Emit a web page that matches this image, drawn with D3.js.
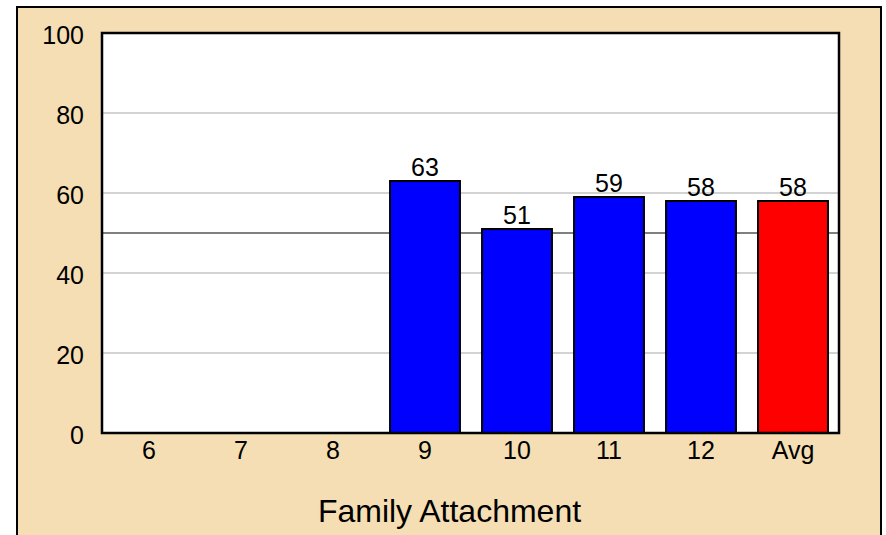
<!DOCTYPE html>
<html>
<head>
<meta charset="utf-8">
<script src="https://cdn.jsdelivr.net/npm/d3@7"></script>
<style>
  html, body { margin: 0; padding: 0; background: #fff; }
  svg { display: block; font-family: "Liberation Sans", Arial, sans-serif; }
</style>
</head>
<body>
<svg id="chart" width="886" height="535"></svg>
<script>
const categories = ["6", "7", "8", "9", "10", "11", "12", "Avg"];
const values = [null, null, null, 63, 51, 59, 58, 58];
const yTicks = [0, 20, 40, 60, 80, 100];
const referenceValue = 50;
const xTitle = "Family Attachment";

const svg = d3.select("#chart");
const plot = { left: 102, top: 33, right: 839, bottom: 433 };
const FONT = "Liberation Sans, Arial, sans-serif";

// outer panel
svg.append("rect")
  .attr("x", 17).attr("y", 7)
  .attr("width", 864).attr("height", 560)
  .attr("fill", "#F5DEB3")
  .attr("stroke", "#000").attr("stroke-width", 2);

const x = d3.scaleBand()
  .domain(categories)
  .range([plot.left + 1, plot.right])
  .paddingInner(0.24)
  .paddingOuter(0.12);

const y = d3.scaleLinear().domain([0, 100]).range([plot.bottom, plot.top]);

// plot background
svg.append("rect")
  .attr("x", plot.left).attr("y", plot.top)
  .attr("width", plot.right - plot.left).attr("height", plot.bottom - plot.top)
  .attr("fill", "#fff");

// gridlines
svg.append("g").selectAll("line")
  .data(yTicks.filter(t => t > 0 && t < 100))
  .join("line")
  .attr("x1", plot.left).attr("x2", plot.right)
  .attr("y1", d => y(d)).attr("y2", d => y(d))
  .attr("stroke", "#d3d3d3").attr("stroke-width", 2);

// reference line
svg.append("line")
  .attr("x1", plot.left).attr("x2", plot.right)
  .attr("y1", y(referenceValue)).attr("y2", y(referenceValue))
  .attr("stroke", "#808080").attr("stroke-width", 2);

// bars
const data = categories.map((c, i) => ({ c, v: values[i] })).filter(d => d.v != null);
svg.append("g").selectAll("rect")
  .data(data)
  .join("rect")
  .attr("x", d => x(d.c))
  .attr("y", d => y(d.v))
  .attr("width", x.bandwidth())
  .attr("height", d => y(0) - y(d.v))
  .attr("fill", d => d.c === "Avg" ? "#FF0000" : "#0000FF")
  .attr("stroke", "#000").attr("stroke-width", 2);

// value labels
svg.append("g").selectAll("text")
  .data(data)
  .join("text")
  .attr("x", d => x(d.c) + x.bandwidth() / 2)
  .attr("y", d => y(d.v) - 5)
  .attr("text-anchor", "middle")
  .attr("font-size", 25)
  .attr("font-family", FONT)
  .attr("fill", "#000")
  .text(d => d.v);

// frame
svg.append("rect")
  .attr("x", plot.left).attr("y", plot.top)
  .attr("width", plot.right - plot.left).attr("height", plot.bottom - plot.top)
  .attr("fill", "none")
  .attr("stroke", "#000").attr("stroke-width", 2.5);

// y axis labels
const yAxis = d3.axisLeft(y).tickValues(yTicks).tickSize(0).tickPadding(18);
const gy = svg.append("g").attr("transform", `translate(${plot.left},0)`).call(yAxis);
gy.select(".domain").remove();
gy.selectAll("text").attr("font-size", 25).attr("font-family", FONT)
  .attr("fill", "#000").attr("dy", "0.4em");

// x axis labels
const xAxis = d3.axisBottom(x).tickSize(0).tickPadding(8);
const gx = svg.append("g").attr("transform", `translate(0,${plot.bottom})`).call(xAxis);
gx.select(".domain").remove();
gx.selectAll("text").attr("font-size", 25).attr("font-family", FONT)
  .attr("fill", "#000");

// title
svg.append("text")
  .attr("x", 449.5).attr("y", 521.5)
  .attr("text-anchor", "middle")
  .attr("font-size", 32)
  .attr("font-family", FONT)
  .attr("fill", "#000")
  .text(xTitle);
</script>
</body>
</html>
